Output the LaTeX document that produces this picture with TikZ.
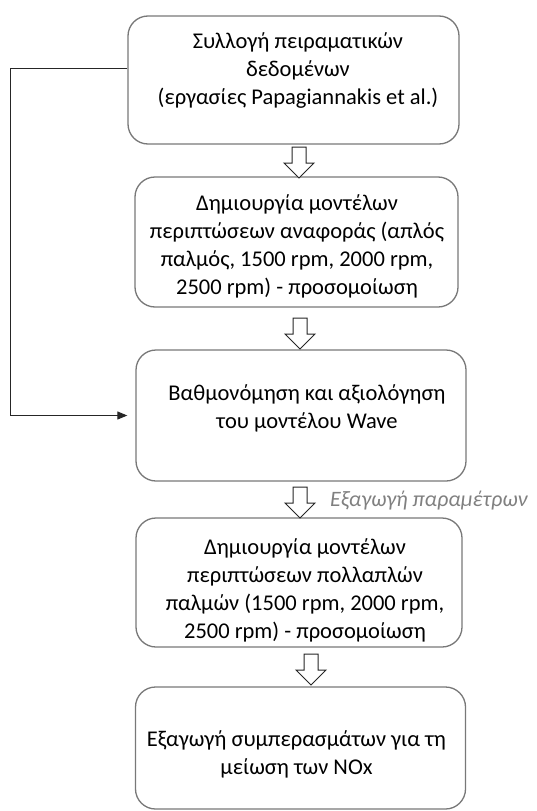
\documentclass[tikz,border=0pt]{standalone}
\usepackage{fontspec}
\setmainfont{Carlito}
\usetikzlibrary{arrows.meta,calc}
\definecolor{boxgray}{RGB}{120,120,120}
\definecolor{lblgray}{RGB}{128,128,128}
\begin{document}
\begin{tikzpicture}[x=1pt,y=-1pt,
  box/.style={draw=boxgray, line width=1.3pt, rounded corners=20pt, fill=white, inner sep=0pt},
  txt/.style={align=center, font=\fontsize{22.5}{28}\selectfont, text=black, inner sep=0pt},
  blockarrow/.style={draw=black!85, line width=1pt, fill=white, line join=miter},
  conn/.style={draw=black!85, line width=1pt},
  lbl/.style={font=\fontsize{22}{26}\selectfont\itshape, text=lblgray, inner sep=0pt, anchor=west},
  blk/.pic={\draw[blockarrow] (-7,0) -- (7,0) -- (7,16) -- (15,16) -- (0,31) -- (-15,16) -- (-7,16) -- cycle;}]
\useasboundingbox (0,0) rectangle (536,811);
% boxes
\node[box, minimum width=331pt, minimum height=128pt] (b1) at (293.5,80) {};
\node[box, minimum width=323pt, minimum height=130pt] (b2) at (296.5,242) {};
\node[box, minimum width=330pt, minimum height=131pt] (b3) at (301,415.5) {};
\node[box, minimum width=326pt, minimum height=129pt] (b4) at (299,582.5) {};
\node[box, minimum width=330pt, minimum height=122pt] (b5) at (300.5,748) {};
% texts
\node[txt] (t1) at (298,71) {Συλλογή πειραματικών\\δεδομένων\\(εργασίες Papagiannakis et al.)};
\node[txt] (t2) at (297,246) {Δημιουργία μοντέλων\\περιπτώσεων αναφοράς (απλός\\παλμός, 1500 rpm, 2000 rpm,\\2500 rpm) - προσομοίωση};
\node[txt] (t3) at (307,408) {Βαθμονόμηση και αξιολόγηση\\του μοντέλου Wave};
\node[txt] (t4) at (305,590) {Δημιουργία μοντέλων\\περιπτώσεων πολλαπλών\\παλμών (1500 rpm, 2000 rpm,\\2500 rpm) - προσομοίωση};
\node[txt] (t5) at (296.5,754) {Εξαγωγή συμπερασμάτων για τη\\μείωση των NOx};
% block arrows
\pic at (299,147) {blk};
\pic at (300,318) {blk};
\pic at (300,487) {blk};
\pic at (311,654) {blk};
\node[lbl] (l1) at (330,501) {Εξαγωγή παραμέτρων};
% feedback connector
\coordinate (k1) at (10,68);
\coordinate (k2) at (10,415.5);
\draw[conn, -{Triangle[length=10pt,width=8pt]}] (b1.west |- k1) -- (k1) -- (k2) -- ($(b3.west |- k2)+(-8,0)$);
\end{tikzpicture}
\end{document}
